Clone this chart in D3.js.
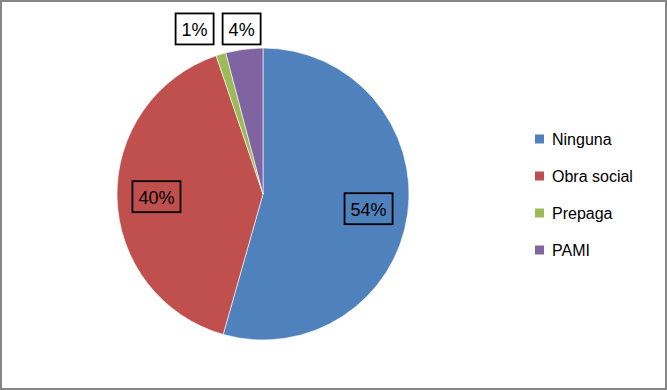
<!DOCTYPE html>
<html>
<head>
<meta charset="utf-8">
<script src="https://cdn.jsdelivr.net/npm/d3@7"></script>
<style>
  body { margin: 0; background: #fff; }
  text { font-family: "Liberation Sans", Arial, sans-serif; }
</style>
</head>
<body>
<div id="chart"></div>
<script>
const categories = ["Ninguna", "Obra social", "Prepaga", "PAMI"];
const values = [54.4, 40.4, 1.1, 4.1];
const colors = ["#4F81BD", "#C0504D", "#9BBB59", "#8064A2"];

const width = 667, height = 390;
const cx = 263, cy = 194, radius = 146;

const svg = d3.select("#chart").append("svg")
    .attr("width", width)
    .attr("height", height);

svg.append("rect")
    .attr("x", 1).attr("y", 1)
    .attr("width", width - 2).attr("height", height - 2)
    .attr("fill", "#fff")
    .attr("stroke", "#868686")
    .attr("stroke-width", 2);

const data = categories.map((c, i) => ({name: c, value: values[i], color: colors[i]}));

const pie = d3.pie().sort(null).value(d => d.value);
const arcs = pie(data);

const arc = d3.arc().innerRadius(0).outerRadius(radius);

const g = svg.append("g").attr("transform", `translate(${cx}, ${cy})`);

g.selectAll("path.slice")
    .data(arcs)
    .enter()
    .append("path")
    .attr("class", "slice")
    .attr("d", arc)
    .attr("fill", d => d.data.color)
    .attr("stroke", "#fff")
    .attr("stroke-width", 0.6);

// label placement: inside for big slices, outside for small ones
const total = d3.sum(values);
const labels = arcs.map(d => {
    const pct = d.data.value / total;
    const mid = (d.startAngle + d.endAngle) / 2;
    const r = pct > 0.1 ? radius * 0.73 : radius * 1.14;
    return {
        text: Math.round(pct * 100) + "%",
        x: r * Math.sin(mid),
        y: -r * Math.cos(mid),
        outside: pct <= 0.1
    };
});

const labelG = g.selectAll("g.label")
    .data(labels)
    .enter()
    .append("g")
    .attr("class", "label");

labelG.append("text")
    .attr("text-anchor", "middle")
    .attr("dominant-baseline", "central")
    .attr("font-size", 18)
    .attr("fill", "#000")
    .text(d => d.text);

// measure and resolve overlaps of outside labels (push left)
labelG.each(function(d) {
    const bb = d3.select(this).select("text").node().getBBox();
    d.w = bb.width + 12;
    d.h = 31;
});
const outs = labels.filter(d => d.outside).sort((a, b) => b.x - a.x);
for (let i = 1; i < outs.length; i++) {
    const prev = outs[i - 1];
    const maxX = prev.x - prev.w / 2 - 9 - outs[i].w / 2;
    if (outs[i].x > maxX) outs[i].x = maxX;
    outs[i].y = prev.y;
}

labelG.attr("transform", d => `translate(${d.x}, ${d.y})`);
labelG.select("text").attr("y", 1);
labelG.insert("rect", "text")
    .attr("x", d => -d.w / 2)
    .attr("y", d => -d.h / 2)
    .attr("width", d => d.w)
    .attr("height", d => d.h)
    .attr("fill", d => d.outside ? "#fff" : "none")
    .attr("stroke", "#000")
    .attr("stroke-width", 1.8);

// legend
const legend = svg.append("g").attr("transform", "translate(535, 139)");
const item = legend.selectAll("g")
    .data(data)
    .enter()
    .append("g")
    .attr("transform", (d, i) => `translate(0, ${i * 37})`);

item.append("rect")
    .attr("x", 0).attr("y", -4.5)
    .attr("width", 9).attr("height", 9)
    .attr("fill", d => d.color);

item.append("text")
    .attr("x", 17)
    .attr("y", 0)
    .attr("dominant-baseline", "central")
    .attr("font-size", 16)
    .attr("fill", "#000")
    .text(d => d.name);
</script>
</body>
</html>
